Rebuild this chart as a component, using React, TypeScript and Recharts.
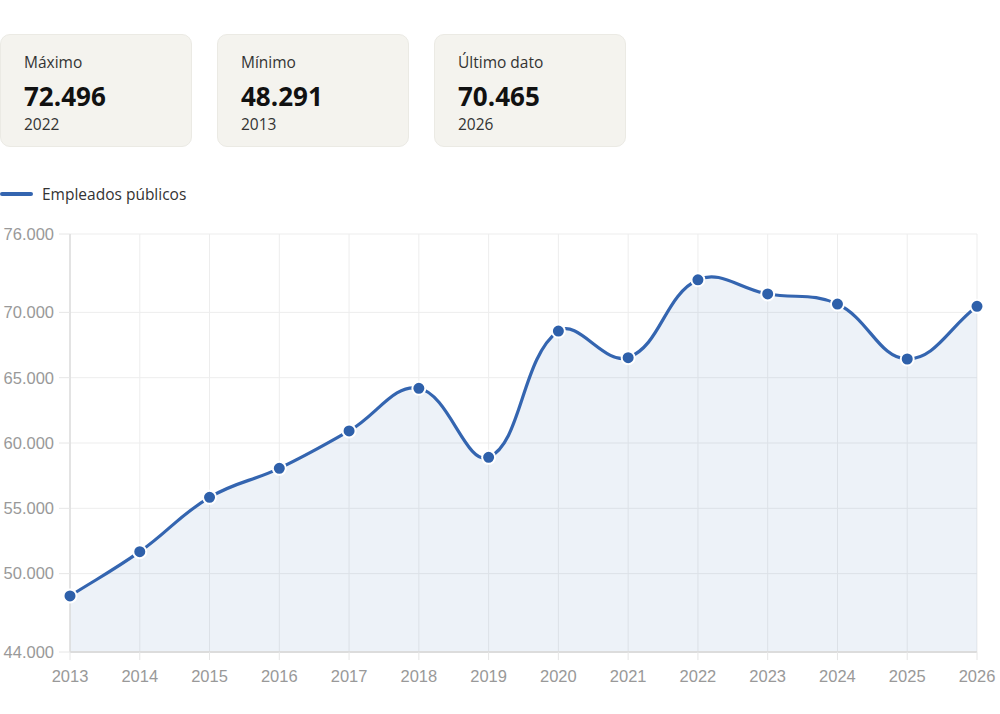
import { Area, AreaChart, CartesianGrid, XAxis, YAxis } from 'recharts';

const years = ['2013', '2014', '2015', '2016', '2017', '2018', '2019', '2020', '2021', '2022', '2023', '2024', '2025', '2026'];
const empleados = [48291, 51680, 55840, 58060, 60920, 64190, 58900, 68570, 66530, 72496, 71410, 70640, 66430, 70465];
const yTicks = [44000, 50000, 55000, 60000, 65000, 70000, 76000];

const stats = [
    { label: 'Máximo', value: '72.496', year: '2022' },
    { label: 'Mínimo', value: '48.291', year: '2013' },
    { label: 'Último dato', value: '70.465', year: '2026' },
];

const data = years.map((year, i) => ({ year, empleados: empleados[i] }));

const LINE = '#3465b0';
const DOT = '#2e60aa';
const TICK_FONT = '"Liberation Sans", Arial, sans-serif';
const UI_FONT = '"Open Sans", "Noto Sans", sans-serif';

// spline with the same control points as a Chart.js line with tension 0.4
function splineCurve(tension: number) {
    return (context: any) => {
        let pts: [number, number][] = [];
        let line: number = NaN;
        return {
            areaStart() {
                line = 0;
            },
            areaEnd() {
                line = NaN;
            },
            lineStart() {
                pts = [];
            },
            point(x: number, y: number) {
                pts.push([+x, +y]);
            },
            lineEnd() {
                const n = pts.length;
                if (n > 0) {
                    const cps = pts.map((cur, i) => {
                        const prev = pts[Math.max(i - 1, 0)];
                        const next = pts[Math.min(i + 1, n - 1)];
                        const d01 = Math.hypot(cur[0] - prev[0], cur[1] - prev[1]);
                        const d12 = Math.hypot(next[0] - cur[0], next[1] - cur[1]);
                        let s01 = d01 / (d01 + d12);
                        let s12 = d12 / (d01 + d12);
                        if (isNaN(s01)) s01 = 0;
                        if (isNaN(s12)) s12 = 0;
                        const fa = tension * s01;
                        const fb = tension * s12;
                        return {
                            c1: [cur[0] - fa * (next[0] - prev[0]), cur[1] - fa * (next[1] - prev[1])],
                            c2: [cur[0] + fb * (next[0] - prev[0]), cur[1] + fb * (next[1] - prev[1])],
                        };
                    });
                    if (line) context.lineTo(pts[0][0], pts[0][1]);
                    else context.moveTo(pts[0][0], pts[0][1]);
                    for (let i = 1; i < n; i++) {
                        const a = cps[i - 1].c2;
                        const b = cps[i].c1;
                        context.bezierCurveTo(a[0], a[1], b[0], b[1], pts[i][0], pts[i][1]);
                    }
                }
                if (line || (line !== 0 && n === 1)) context.closePath();
                line = 1 - line;
            },
        };
    };
}

const curve = splineCurve(0.4);

function StatCard({ label, value, year }: { label: string; value: string; year: string }) {
    return (
        <div
            style={{
                width: 192,
                height: 113,
                boxSizing: 'border-box',
                background: '#f4f3ee',
                border: '1px solid #ebeae4',
                borderRadius: 10,
                padding: '17px 0 0 23px',
                color: '#333',
                fontFamily: UI_FONT,
            }}
        >
            <div style={{ fontSize: 15.5, lineHeight: '20px' }}>{label}</div>
            <div style={{ fontSize: 26, fontWeight: 700, lineHeight: '34px', marginTop: 7, color: '#111' }}>{value}</div>
            <div style={{ fontSize: 15.5, lineHeight: '20px', marginTop: 1 }}>{year}</div>
        </div>
    );
}

export default function App() {
    return (
        <div style={{ position: 'absolute', left: 0, top: 0, width: 1000, height: 714, background: '#fff' }}>
            <div style={{ position: 'absolute', top: 34, left: 0, display: 'flex', gap: 25 }}>
                {stats.map((s) => (
                    <StatCard key={s.label} {...s} />
                ))}
            </div>
            <div
                style={{
                    position: 'absolute',
                    top: 184,
                    left: 0,
                    display: 'flex',
                    alignItems: 'center',
                    height: 20,
                    fontFamily: UI_FONT,
                    fontSize: 15.5,
                    color: '#333',
                }}
            >
                <span style={{ width: 33, height: 4, borderRadius: 2, background: LINE, marginRight: 9 }} />
                Empleados públicos
            </div>
            <div style={{ position: 'absolute', top: 210, left: 0 }}>
                <AreaChart
                    width={1000}
                    height={504}
                    data={data}
                    margin={{ top: 24, right: 23, bottom: 0, left: 0 }}
                >
                    <CartesianGrid stroke="#ededed" strokeWidth={1} />
                    <XAxis
                        dataKey="year"
                        height={62}
                        interval={0}
                        tickSize={8}
                        tickMargin={10}
                        axisLine={{ stroke: '#dcdcdc', strokeWidth: 2 }}
                        tickLine={{ stroke: '#e6e6e6' }}
                        tick={{ fill: '#999', fontSize: 16.5, fontFamily: TICK_FONT }}
                    />
                    <YAxis
                        width={70}
                        domain={[44000, 76000]}
                        ticks={yTicks}
                        interval={0}
                        tickSize={11}
                        tickMargin={5}
                        axisLine={{ stroke: '#dcdcdc', strokeWidth: 1.5 }}
                        tickLine={{ stroke: '#e6e6e6' }}
                        tick={{ fill: '#999', fontSize: 16.5, fontFamily: TICK_FONT }}
                        tickFormatter={(v: number) => v.toLocaleString('de-DE')}
                    />
                    <Area
                        dataKey="empleados"
                        name="Empleados públicos"
                        type={curve as any}
                        stroke={LINE}
                        strokeWidth={3.2}
                        fill={LINE}
                        fillOpacity={0.085}
                        dot={{ r: 6.5, fill: DOT, stroke: '#fff', strokeWidth: 2, fillOpacity: 1 }}
                        activeDot={false}
                        isAnimationActive={false}
                    />
                </AreaChart>
            </div>
        </div>
    );
}
